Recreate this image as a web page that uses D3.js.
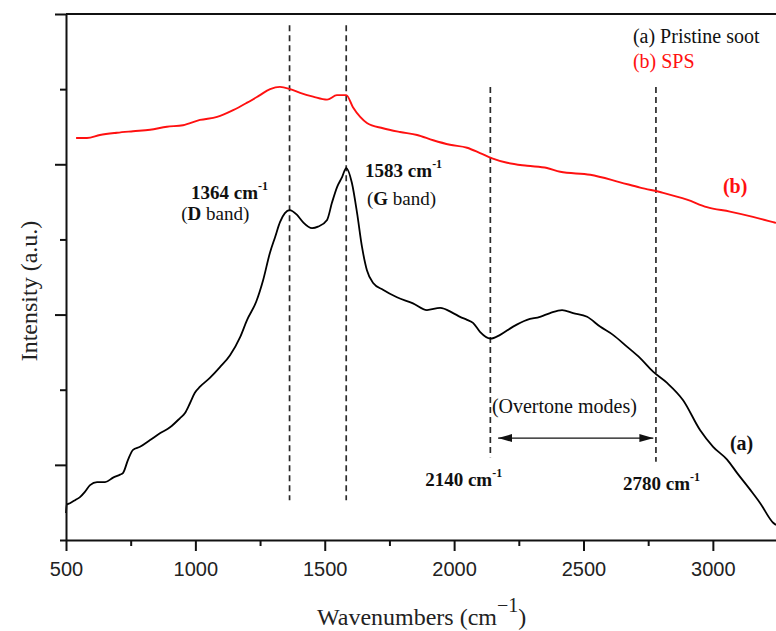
<!DOCTYPE html>
<html>
<head>
<meta charset="utf-8">
<script src="https://cdn.jsdelivr.net/npm/d3@7"></script>
<style>
  html, body { margin: 0; padding: 0; background: #fff; }
  svg { display: block; }
</style>
</head>
<body>
<svg id="chart" width="776" height="631"></svg>
<script>
// Raman spectra: (a) pristine soot, (b) SPS
const wavenumberA = [500, 503, 515, 535, 554, 573, 593, 620, 651, 682, 709, 720, 740, 759, 786, 825, 863, 902, 940, 960, 979, 998, 1018, 1057, 1095, 1134, 1173, 1200, 1235, 1262, 1288, 1308, 1327, 1346, 1364, 1392, 1416, 1451, 1474, 1509, 1528, 1548, 1567, 1583, 1605, 1625, 1644, 1663, 1687, 1725, 1779, 1841, 1895, 1946, 1996, 2023, 2050, 2073, 2100, 2140, 2178, 2228, 2282, 2332, 2371, 2417, 2460, 2514, 2564, 2614, 2669, 2719, 2769, 2823, 2885, 2951, 3001, 3055, 3094, 3144, 3183, 3233, 3244];
const intensityA  = [0.36, 0.47, 0.49, 0.53, 0.57, 0.64, 0.73, 0.77, 0.77, 0.83, 0.87, 0.89, 1.07, 1.20, 1.24, 1.33, 1.42, 1.50, 1.62, 1.69, 1.82, 1.96, 2.04, 2.16, 2.30, 2.46, 2.70, 2.93, 3.17, 3.46, 3.82, 4.03, 4.23, 4.35, 4.39, 4.33, 4.23, 4.15, 4.17, 4.26, 4.49, 4.70, 4.83, 4.95, 4.75, 4.35, 3.90, 3.59, 3.42, 3.33, 3.23, 3.15, 3.06, 3.09, 3.02, 2.97, 2.93, 2.89, 2.77, 2.68, 2.73, 2.84, 2.93, 2.97, 3.02, 3.06, 3.02, 2.97, 2.84, 2.73, 2.57, 2.42, 2.24, 2.09, 1.86, 1.46, 1.24, 1.07, 0.89, 0.67, 0.49, 0.23, 0.20];

const wavenumberB = [539, 581, 631, 697, 759, 825, 890, 952, 1018, 1084, 1146, 1200, 1245, 1289, 1327, 1366, 1405, 1455, 1509, 1547, 1583, 1609, 1637, 1663, 1725, 1791, 1857, 1919, 1984, 2050, 2100, 2147, 2205, 2282, 2359, 2410, 2526, 2642, 2719, 2808, 2900, 2977, 3066, 3155, 3233, 3244];
const intensityB  = [5.35, 5.35, 5.39, 5.42, 5.44, 5.46, 5.50, 5.52, 5.59, 5.63, 5.72, 5.82, 5.91, 6.00, 6.03, 6.00, 5.95, 5.90, 5.86, 5.92, 5.92, 5.76, 5.63, 5.55, 5.48, 5.43, 5.39, 5.32, 5.26, 5.22, 5.15, 5.08, 5.02, 4.98, 4.95, 4.90, 4.86, 4.76, 4.69, 4.62, 4.53, 4.43, 4.37, 4.30, 4.23, 4.22];

// Axis ticks
const xMajorTicks = [500, 1000, 1500, 2000, 2500, 3000];
const xMinorTicks = [750, 1250, 1750, 2250, 2750];
const yMajorTicks = [1, 3, 5, 7];
const yMinorTicks = [0, 2, 4, 6];

// Band markers (dashed guides)
const bandPositions = [1364, 1583, 2140, 2780];
const bandTop       = [6.85, 6.85, 6.03, 6.03];
const bandBottom    = [0.53, 0.53, 1.10, 1.04];

const xDomain = [500, 3244];
const yDomain = [0, 7];

const svg = d3.select("#chart");
const margin = { left: 66, right: 0, top: 14, bottom: 91 };
const W = 776, H = 631;

const x = d3.scaleLinear().domain(xDomain).range([margin.left, W - margin.right]);
const y = d3.scaleLinear().domain(yDomain).range([H - margin.bottom, margin.top]);

const serif = "'Liberation Serif', 'Times New Roman', serif";
const sans = "'Liberation Sans', Arial, sans-serif";

// Dashed band guides
svg.append("g")
  .selectAll("line")
  .data(bandPositions)
  .join("line")
  .attr("x1", d => x(d)).attr("x2", d => x(d))
  .attr("y1", (d, i) => y(bandTop[i]))
  .attr("y2", (d, i) => y(bandBottom[i]))
  .attr("stroke", "#2a2a2a")
  .attr("stroke-width", 1.7)
  .attr("stroke-dasharray", "6,4");

// Spectra
const line = d3.line().curve(d3.curveMonotoneX).x(d => x(d[0])).y(d => y(d[1]));
const seriesA = wavenumberA.map((w, i) => [w, intensityA[i]]);
const seriesB = wavenumberB.map((w, i) => [w, intensityB[i]]);

svg.append("path").datum(seriesB)
  .attr("d", line).attr("fill", "none")
  .attr("stroke", "#ff1010").attr("stroke-width", 1.9).attr("stroke-linejoin", "round");
svg.append("path").datum(seriesA)
  .attr("d", line).attr("fill", "none")
  .attr("stroke", "#000").attr("stroke-width", 1.8).attr("stroke-linejoin", "round");

// Axes
const axisStyle = g => {
  g.selectAll("path.domain").attr("stroke", "#111").attr("stroke-width", 2);
  g.selectAll(".tick line").attr("stroke", "#111").attr("stroke-width", 2);
};
const xAxisG = svg.append("g").attr("transform", `translate(0,${y(0)})`);
xAxisG.call(d3.axisBottom(x).tickValues(xMajorTicks).tickSize(11).tickSizeOuter(0).tickFormat(d3.format("d")).tickPadding(6))
  .call(axisStyle);
xAxisG.selectAll(".tick text")
  .attr("font-family", sans).attr("font-size", 20).attr("fill", "#222").attr("dy", "0.95em");
svg.append("g").attr("transform", `translate(0,${y(0)})`)
  .call(d3.axisBottom(x).tickValues(xMinorTicks).tickSize(6).tickFormat(""))
  .call(g => g.select(".domain").remove())
  .call(axisStyle);

svg.append("g").attr("transform", `translate(${x(500)},0)`)
  .call(d3.axisLeft(y).tickValues(yMajorTicks).tickSize(11).tickSizeOuter(0).tickFormat(""))
  .call(axisStyle);
svg.append("g").attr("transform", `translate(${x(500)},0)`)
  .call(d3.axisLeft(y).tickValues(yMinorTicks).tickSize(6).tickFormat(""))
  .call(g => g.select(".domain").remove())
  .call(axisStyle);

// Top frame
svg.append("line")
  .attr("x1", x(500)).attr("x2", W)
  .attr("y1", y(7)).attr("y2", y(7))
  .attr("stroke", "#111").attr("stroke-width", 2);

// Axis titles
const xTitle = svg.append("text")
  .attr("x", 317).attr("y", 625)
  .attr("font-family", serif).attr("font-size", 24).attr("fill", "#222");
xTitle.append("tspan").text("Wavenumbers (cm");
xTitle.append("tspan").attr("font-size", 20).attr("dy", -13).text("\u22121");
xTitle.append("tspan").attr("dy", 13).text(")");

svg.append("text")
  .attr("transform", "translate(37,291) rotate(-90)")
  .attr("text-anchor", "middle")
  .attr("font-family", serif).attr("font-size", 24).attr("fill", "#222")
  .text("Intensity (a.u.)");

// Annotations
function waveLabel(xv, yv, value) {
  const t = svg.append("text")
    .attr("x", x(xv)).attr("y", y(yv))
    .attr("font-family", serif).attr("font-size", 19).attr("font-weight", "bold").attr("fill", "#111");
  t.append("tspan").text(value + " cm");
  t.append("tspan").attr("font-size", 12).attr("dy", -9).text("-1");
}
function bandLabel(xv, yv, letter) {
  const t = svg.append("text")
    .attr("x", x(xv)).attr("y", y(yv))
    .attr("font-family", serif).attr("font-size", 19).attr("fill", "#111");
  t.append("tspan").text("(");
  t.append("tspan").attr("font-weight", "bold").text(letter);
  t.append("tspan").text(" band)");
}

waveLabel(983, 4.538, bandPositions[0]);
bandLabel(945, 4.259, "D");
waveLabel(1656, 4.831, bandPositions[1]);
bandLabel(1663, 4.458, "G");
waveLabel(1888, 0.719, bandPositions[2]);
waveLabel(2653, 0.665, bandPositions[3]);

svg.append("text")
  .attr("x", x(2146)).attr("y", y(1.69))
  .attr("font-family", serif).attr("font-size", 20).attr("fill", "#111")
  .text("(Overtone modes)");

// Double-headed arrow spanning the overtone region
const defs = svg.append("defs");
defs.append("marker").attr("id", "arrowEnd")
  .attr("viewBox", "0 0 14 8").attr("refX", 14).attr("refY", 4)
  .attr("markerWidth", 14).attr("markerHeight", 8).attr("markerUnits", "userSpaceOnUse")
  .attr("orient", "auto")
  .append("path").attr("d", "M0,0 L14,4 L0,8 Z").attr("fill", "#111");
defs.append("marker").attr("id", "arrowStart")
  .attr("viewBox", "0 0 14 8").attr("refX", 0).attr("refY", 4)
  .attr("markerWidth", 14).attr("markerHeight", 8).attr("markerUnits", "userSpaceOnUse")
  .attr("orient", "auto")
  .append("path").attr("d", "M14,0 L0,4 L14,8 Z").attr("fill", "#111");
svg.append("line")
  .attr("x1", x(2170)).attr("x2", x(2770))
  .attr("y1", y(1.357)).attr("y2", y(1.357))
  .attr("stroke", "#111").attr("stroke-width", 1.2)
  .attr("marker-start", "url(#arrowStart)").attr("marker-end", "url(#arrowEnd)");

// Series tags
svg.append("text").attr("x", x(3066)).attr("y", y(1.198))
  .attr("font-family", serif).attr("font-size", 20).attr("font-weight", "bold").attr("fill", "#111")
  .text("(a)");
svg.append("text").attr("x", x(3039)).attr("y", y(4.618))
  .attr("font-family", serif).attr("font-size", 20).attr("font-weight", "bold").attr("fill", "#ff1010")
  .text("(b)");

// Legend
svg.append("text").attr("x", x(2691)).attr("y", y(6.614))
  .attr("font-family", serif).attr("font-size", 20).attr("fill", "#111")
  .text("(a) Pristine soot");
svg.append("text").attr("x", x(2691)).attr("y", y(6.282))
  .attr("font-family", serif).attr("font-size", 20).attr("fill", "#ff1010")
  .text("(b) SPS");
</script>
</body>
</html>
